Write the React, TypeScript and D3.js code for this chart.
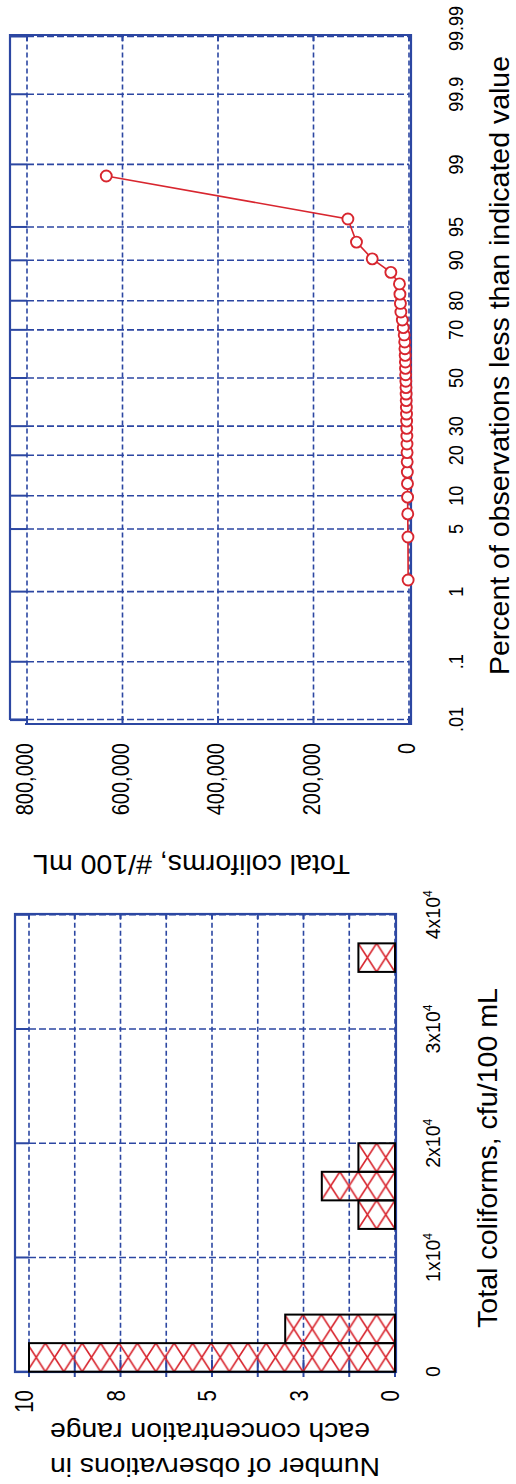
import React from 'react';
import * as d3 from 'd3';

// ---------- data ----------
const probTicks = [0.01, 0.1, 1, 5, 10, 20, 30, 50, 70, 80, 90, 95, 99, 99.9, 99.99];
const probTickLabels = ['.01', '.1', '1', '5', '10', '20', '30', '50', '70', '80', '90', '95', '99', '99.9', '99.99'];
const valueTicks = [0, 200000, 400000, 600000, 800000];
const valueTickLabels = ['0', '200,000', '400,000', '600,000', '800,000'];
// ranked observations, total coliforms #/100 mL
const coliformValues = [
  1800, 2200, 2600, 3000, 3200, 3500, 3800, 4000, 4200, 4500, 4800, 5000,
  5200, 5500, 5800, 6000, 6300, 6600, 7000, 7300, 7600, 8000, 8500, 9000,
  10000, 12000, 14000, 17000, 18000, 19000, 20000, 38000, 77000, 110000, 128000, 634000,
];

const binStarts = [0, 2500, 12500, 15000, 17500, 35000];
const binCounts = [10, 3, 1, 2, 1, 1];
const binWidth = 2500;
const concTicks = [0, 10000, 20000, 30000, 40000];
const concTickMantissa = ['0', '1', '2', '3', '4'];
const countGrid = [0, 1.25, 2.5, 3.75, 5, 6.25, 7.5, 8.75, 10];
const countTickValues = [0, 2.5, 5, 7.5, 10];
const countTickLabels = ['0', '3', '5', '8', '10'];

// ---------- helpers ----------
function invNorm(p: number): number {
  const a = [-3.969683028665376e1, 2.209460984245205e2, -2.759285104469687e2, 1.38357751867269e2, -3.066479806614716e1, 2.506628277459239];
  const b = [-5.447609879822406e1, 1.615858368580409e2, -1.556989798598866e2, 6.680131188771972e1, -1.328068155288572e1];
  const c = [-7.784894002430293e-3, -3.223964580411365e-1, -2.400758277161838, -2.549732539343734, 4.374664141464968, 2.938163982698783];
  const d = [7.784695709041462e-3, 3.224671290700398e-1, 2.445134137142996, 3.754408661907416];
  const pl = 0.02425;
  if (p < pl) {
    const q = Math.sqrt(-2 * Math.log(p));
    return (((((c[0] * q + c[1]) * q + c[2]) * q + c[3]) * q + c[4]) * q + c[5]) / ((((d[0] * q + d[1]) * q + d[2]) * q + d[3]) * q + 1);
  }
  if (p <= 1 - pl) {
    const q = p - 0.5;
    const r = q * q;
    return ((((((a[0] * r + a[1]) * r + a[2]) * r + a[3]) * r + a[4]) * r + a[5]) * q) / (((((b[0] * r + b[1]) * r + b[2]) * r + b[3]) * r + b[4]) * r + 1);
  }
  const q = Math.sqrt(-2 * Math.log(1 - p));
  return -(((((c[0] * q + c[1]) * q + c[2]) * q + c[3]) * q + c[4]) * q + c[5]) / ((((d[0] * q + d[1]) * q + d[2]) * q + d[3]) * q + 1);
}

const BLUE = '#2c47a2';
const RED = '#d8262f';
const FONT = "'Liberation Sans', Arial, Helvetica, sans-serif";

export default function App() {
  // top panel scales (drawn rotated: values run right->left, probability bottom->top)
  const xVal = d3.scaleLinear().domain([0, 800000]).range([409, 27]);
  const yProb = d3.scaleLinear().domain([invNorm(0.0001), invNorm(0.9999)]).range([719.5, 36.5]);
  const py = (p: number) => yProb(invNorm(p / 100));

  const n = coliformValues.length;
  const pts = coliformValues.map((v, i) => [xVal(v), yProb(invNorm((i + 0.5) / n))] as [number, number]);
  const linePath = d3.line()(pts) || '';

  // histogram scales
  const countX = d3.scaleLinear().domain([0, 10]).range([395, 29]);
  const concY = d3.scaleLinear().domain([0, 40000]).range([1371.7, 914.8]);
  const binH = concY(0) - concY(binWidth);

  const gridW = 1.6;

  return (
    <div style={{ position: 'absolute', left: 0, top: 0 }}>
      <svg width={516} height={1484} viewBox="0 0 516 1484" style={{ display: 'block', background: '#fff' }} fontFamily={FONT}>
        <defs>
          <pattern id="hatch" patternUnits="userSpaceOnUse" width={18.4} height={binH} x={countX(0)} y={concY(0)}>
            <path d={`M0,0 L18.4,${binH} M18.4,0 L0,${binH}`} stroke={RED} strokeWidth={1.7} fill="none" />
          </pattern>
        </defs>

        {/* ================= TOP PANEL ================= */}
        {probTicks.map((p) => (
          <line key={'pg' + p} x1={27} x2={409} y1={py(p)} y2={py(p)} stroke={BLUE} strokeWidth={gridW} strokeDasharray="7,3" />
        ))}
        {valueTicks.map((v) => (
          <line key={'vg' + v} x1={xVal(v)} x2={xVal(v)} y1={36.5} y2={720} stroke={BLUE} strokeWidth={gridW} strokeDasharray="5,3" />
        ))}
        {probTicks.map((p) => (
          <line key={'pt' + p} x1={10} x2={27} y1={py(p)} y2={py(p)} stroke={BLUE} strokeWidth={2} />
        ))}
        {valueTicks.map((v) => (
          <g key={'vt' + v}>
            <line x1={xVal(v)} x2={xVal(v)} y1={35} y2={41} stroke={BLUE} strokeWidth={2} />
            <line x1={xVal(v)} x2={xVal(v)} y1={716} y2={724} stroke={BLUE} strokeWidth={2} />
          </g>
        ))}
        <path d="M10,720 V35 H411 V724 H25" fill="none" stroke={BLUE} strokeWidth={2.2} />
        <line x1={10} x2={27} y1={720} y2={720} stroke={BLUE} strokeWidth={2.2} />

        {/* data */}
        <path d={linePath} fill="none" stroke={RED} strokeWidth={1.6} />
        {pts.map((d, i) => (
          <circle key={'c' + i} cx={d[0]} cy={d[1]} r={5.5} fill="#fff" stroke={RED} strokeWidth={1.9} />
        ))}

        {/* probability tick labels */}
        {probTicks.map((p, i) => {
          const y = p === 99.99 ? py(p) - 8 : py(p);
          return (
            <text key={'pl' + p} transform={`translate(463,${y}) rotate(-90) scale(0.86,1)`} textAnchor="middle" fontSize={21} fill="#000">
              {probTickLabels[i]}
            </text>
          );
        })}
        {/* value tick labels */}
        {valueTicks.map((v, i) => (
          <text key={'vl' + v} transform={`translate(${xVal(v) + 6},743) rotate(-90) scale(0.87,1)`} textAnchor="end" fontSize={23} fill="#000">
            {valueTickLabels[i]}
          </text>
        ))}
        {/* axis titles */}
        <text transform="translate(509,365.5) rotate(-90)" textAnchor="middle" fontSize={28} textLength={619} lengthAdjust="spacingAndGlyphs" fill="#000">
          Percent of observations less than indicated value
        </text>
        <text transform="translate(191.5,855) rotate(180)" textAnchor="middle" fontSize={28} textLength={317} lengthAdjust="spacingAndGlyphs" fill="#000">
          Total coliforms, #/100 mL
        </text>

        {/* ================= HISTOGRAM ================= */}
        {countGrid.map((c) => (
          <line key={'cg' + c} x1={countX(c)} x2={countX(c)} y1={concY(40000)} y2={concY(0)} stroke={BLUE} strokeWidth={gridW} strokeDasharray="5,3" />
        ))}
        {concTicks.map((c) => (
          <line key={'hg' + c} x1={29} x2={395} y1={concY(c)} y2={concY(c)} stroke={BLUE} strokeWidth={gridW} strokeDasharray="7,3" />
        ))}
        {concTicks.map((c) => (
          <line key={'ht' + c} x1={15} x2={29} y1={concY(c)} y2={concY(c)} stroke={BLUE} strokeWidth={2} />
        ))}
        {countGrid.map((c) => (
          <g key={'ct' + c}>
            <line x1={countX(c)} x2={countX(c)} y1={1360} y2={1377} stroke={BLUE} strokeWidth={2} />
            <line x1={countX(c)} x2={countX(c)} y1={914} y2={919} stroke={BLUE} strokeWidth={2} />
          </g>
        ))}
        <rect x={15} y={914} width={381} height={458} fill="none" stroke={BLUE} strokeWidth={2.2} />

        {/* bars */}
        {binStarts.map((s, i) => (
          <rect
            key={'b' + s}
            x={countX(binCounts[i])}
            y={concY(s + binWidth)}
            width={countX(0) - countX(binCounts[i])}
            height={concY(s) - concY(s + binWidth)}
            fill="url(#hatch)"
            stroke="#000"
            strokeWidth={2}
          />
        ))}

        {/* concentration tick labels */}
        {concTicks.map((c, i) => (
          <text key={'hl' + c} transform={`translate(440,${concY(c)}) rotate(-90)`} textAnchor="middle" fontSize={19.5} fill="#000">
            {c === 0 ? (
              '0'
            ) : (
              <>
                {concTickMantissa[i]}x10
                <tspan fontSize={12} dy={-8}>4</tspan>
              </>
            )}
          </text>
        ))}
        {/* count tick labels */}
        {countTickValues.map((v, i) => (
          <text key={'cl' + v} transform={`translate(${countX(v) + 4},1390) rotate(-90) scale(0.82,1)`} textAnchor="end" fontSize={25} fill="#000">
            {countTickLabels[i]}
          </text>
        ))}
        {/* titles */}
        <text transform="translate(497,1158) rotate(-90)" textAnchor="middle" fontSize={28} textLength={340} lengthAdjust="spacingAndGlyphs" fill="#000">
          Total coliforms, cfu/100 mL
        </text>
        <text transform="translate(215,1458) rotate(180)" textAnchor="middle" fontSize={26} textLength={330} lengthAdjust="spacingAndGlyphs" fill="#000">
          Number of observations in
        </text>
        <text transform="translate(210,1423) rotate(180)" textAnchor="middle" fontSize={26} textLength={320} lengthAdjust="spacingAndGlyphs" fill="#000">
          each concentration range
        </text>
      </svg>
    </div>
  );
}
